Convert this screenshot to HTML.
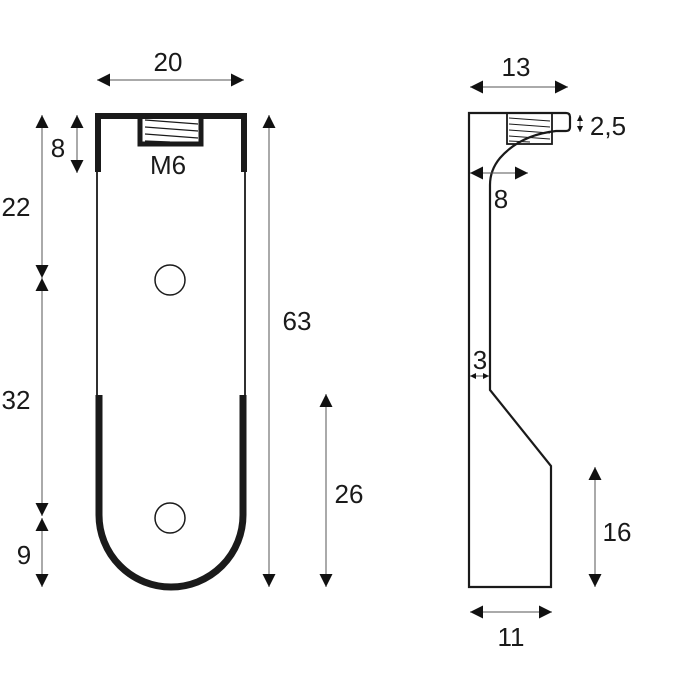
<!DOCTYPE html>
<html><head><style>body{margin:0;background:#fff}svg{display:block}text{font-family:"Liberation Sans",sans-serif;font-size:26px;fill:#1a1a1a}</style></head><body>
<svg width="700" height="700" viewBox="0 0 700 700">
<defs>
<marker id="a" viewBox="0 0 10 10" refX="10" refY="5" markerWidth="14" markerHeight="13" markerUnits="userSpaceOnUse" orient="auto-start-reverse"><path d="M0,0L10,5L0,10z" fill="#111"/></marker>
<marker id="s" viewBox="0 0 10 10" refX="10" refY="5" markerWidth="6" markerHeight="6" markerUnits="userSpaceOnUse" orient="auto-start-reverse"><path d="M0,0L10,5L0,10z" fill="#111"/></marker>
</defs>
<g fill="none" stroke="#1a1a1a">
<path d="M98,172 V116 H244 V172" stroke-width="6"/>
<path d="M97,172 V395 M245,172 V395" stroke-width="1.8"/>
<path d="M99,395 V515 A72,72 0 0 0 243,515 V395" stroke-width="7"/>
<rect x="140" y="116" width="61" height="28" stroke-width="5"/>
<path d="M145,120 L198,124 M145,127 L198,131 M145,134 L198,138 M145,141 L170,142" stroke-width="1.2"/>
<circle cx="170" cy="280" r="15" stroke-width="1.5"/>
<circle cx="170" cy="518" r="15" stroke-width="1.5"/>
<path d="M469,113 H566 Q570,113 570,117 V127 Q570,131 566,131 L556,131 Q520,135 500,158 Q490,170 490,185 V390 L551,466 V587 H469 Z" stroke-width="2.2"/>
<rect x="507" y="113" width="45" height="31" stroke-width="1.8"/>
<path d="M509,118 L550,121 M509,124 L550,127 M509,130 L550,133 M509,136 L550,139 M509,141 L530,142" stroke-width="1.1"/>
</g>
<g stroke="#555" stroke-width="1" fill="none">
<line x1="97" y1="80" x2="244" y2="80" marker-start="url(#a)" marker-end="url(#a)"/>
<line x1="42" y1="115" x2="42" y2="278" marker-start="url(#a)" marker-end="url(#a)"/>
<line x1="42" y1="278" x2="42" y2="516" marker-start="url(#a)" marker-end="url(#a)"/>
<line x1="42" y1="518" x2="42" y2="587" marker-start="url(#a)" marker-end="url(#a)"/>
<line x1="77" y1="115" x2="77" y2="173" marker-start="url(#a)" marker-end="url(#a)"/>
<line x1="269" y1="115" x2="269" y2="587" marker-start="url(#a)" marker-end="url(#a)"/>
<line x1="326" y1="394" x2="326" y2="587" marker-start="url(#a)" marker-end="url(#a)"/>
<line x1="470" y1="87" x2="568" y2="87" marker-start="url(#a)" marker-end="url(#a)"/>
<line x1="470" y1="173" x2="528" y2="173" marker-start="url(#a)" marker-end="url(#a)"/>
<line x1="470" y1="376" x2="489" y2="376" marker-start="url(#s)" marker-end="url(#s)"/>
<line x1="580" y1="115" x2="580" y2="132" marker-start="url(#s)" marker-end="url(#s)"/>
<line x1="595" y1="467" x2="595" y2="587" marker-start="url(#a)" marker-end="url(#a)"/>
<line x1="470" y1="612" x2="552" y2="612" marker-start="url(#a)" marker-end="url(#a)"/>
</g>
<text x="168" y="71" text-anchor="middle">20</text>
<text x="168" y="174" text-anchor="middle">M6</text>
<text x="58" y="157" text-anchor="middle">8</text>
<text x="16" y="216" text-anchor="middle">22</text>
<text x="16" y="409" text-anchor="middle">32</text>
<text x="24" y="564" text-anchor="middle">9</text>
<text x="297" y="330" text-anchor="middle">63</text>
<text x="349" y="503" text-anchor="middle">26</text>
<text x="516" y="76" text-anchor="middle">13</text>
<text x="608" y="135" text-anchor="middle">2,5</text>
<text x="501" y="208" text-anchor="middle">8</text>
<text x="480" y="369" text-anchor="middle">3</text>
<text x="617" y="541" text-anchor="middle">16</text>
<text x="511" y="646" text-anchor="middle">11</text>
</svg>
</body></html>
